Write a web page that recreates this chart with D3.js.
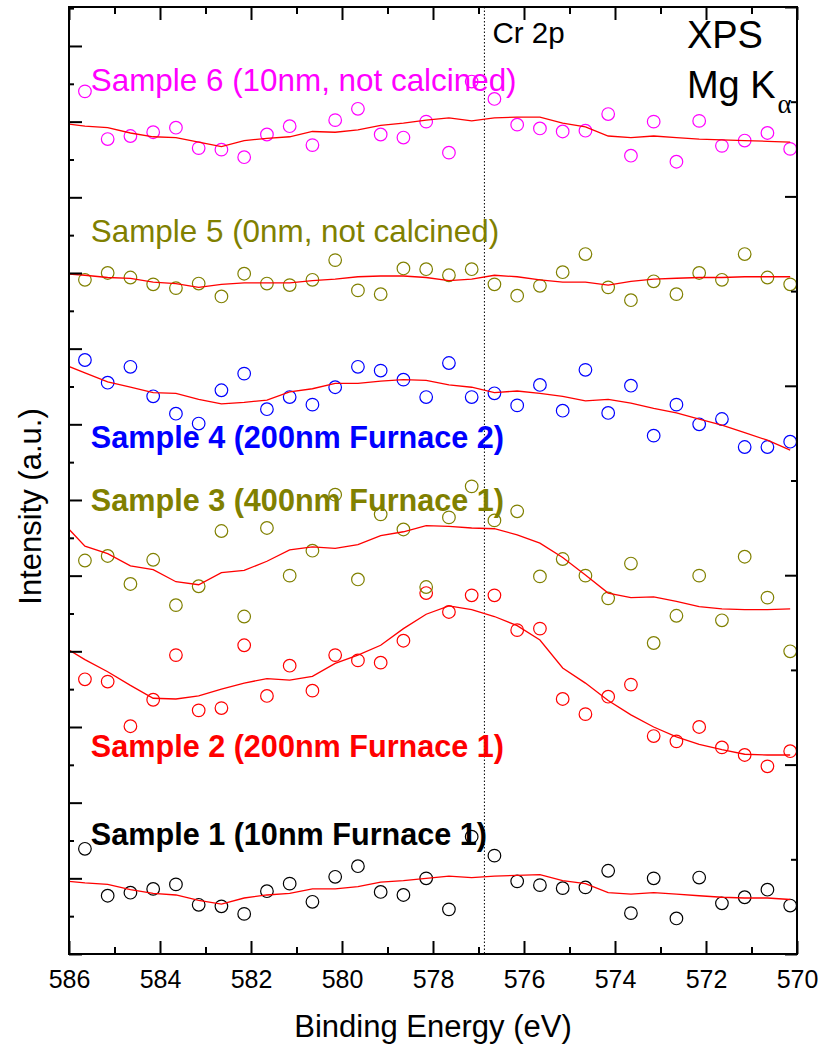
<!DOCTYPE html>
<html>
<head>
<meta charset="utf-8">
<script src="https://cdn.jsdelivr.net/npm/d3@7"></script>
<style>
  html, body { margin: 0; padding: 0; background: #fff; }
  svg { display: block; font-family: "Liberation Sans", Arial, sans-serif; }
</style>
</head>
<body>
<svg id="chart" width="822" height="1047"></svg>
<script>
// Binding energy grid (eV) shared by every Cr 2p spectrum
const bindingEnergy = [586.15,585.65,585.15,584.65,584.15,583.65,583.15,582.65,582.15,581.65,581.15,580.65,580.15,579.65,579.15,578.65,578.15,577.65,577.15,576.65,576.15,575.65,575.15,574.65,574.15,573.65,573.15,572.65,572.15,571.65,571.15,570.65,570.15];

// Measured intensities (a.u., stacked) and smoothed fits
const sample1Counts = [null,1.39,0.77,0.81,0.86,0.92,0.65,0.63,0.53,0.83,0.93,0.69,1.02,1.16,0.82,0.78,1.00,0.59,1.55,1.30,0.96,0.91,0.87,0.88,1.10,0.54,1.00,0.47,1.01,0.67,0.75,0.85,0.64];
const sample1Fit    = [0.97,0.94,0.92,0.85,0.80,0.78,0.71,0.66,0.74,0.78,0.80,0.86,0.86,0.89,0.95,0.97,1.00,1.03,1.01,1.03,1.04,1.05,0.97,0.93,0.81,0.79,0.81,0.79,0.77,0.75,0.74,0.74,0.72];

const sample2Counts = [4.28,3.63,3.60,3.01,3.36,3.95,3.22,3.25,4.08,3.41,3.81,3.48,3.95,3.88,3.85,4.14,4.77,4.52,4.74,4.74,4.28,4.30,3.37,3.17,3.40,3.56,2.88,2.81,3.00,2.73,2.63,2.48,2.68];
const sample2Fit    = [4.07,3.89,3.73,3.55,3.38,3.37,3.41,3.50,3.58,3.64,3.62,3.67,3.84,3.95,4.08,4.30,4.49,4.60,4.55,4.46,4.34,4.15,3.78,3.58,3.35,3.16,3.00,2.87,2.77,2.70,2.64,2.63,2.63];

const sample3Counts = [6.11,5.20,5.26,4.89,5.21,4.61,4.86,5.59,4.46,5.63,5.00,5.33,6.07,4.95,5.81,5.61,4.85,5.77,6.18,5.73,5.85,4.99,5.22,5.00,4.70,5.16,4.11,4.47,5.00,4.41,5.25,4.71,4.00];
const sample3Fit    = [5.71,5.39,5.29,5.13,5.08,4.92,4.88,5.04,5.07,5.19,5.34,5.38,5.36,5.41,5.53,5.58,5.66,5.65,5.63,5.62,5.54,5.43,5.24,5.01,4.77,4.71,4.72,4.66,4.59,4.56,4.55,4.55,4.56];

const sample4Counts = [7.83,7.85,7.55,7.76,7.37,7.14,7.01,7.45,7.67,7.20,7.36,7.26,7.49,7.76,7.71,7.59,7.36,7.81,7.36,7.41,7.25,7.52,7.18,7.72,7.15,7.51,6.85,7.26,7.00,7.07,6.70,6.70,6.77];
const sample4Fit    = [7.80,7.68,7.56,7.49,7.42,7.41,7.33,7.27,7.29,7.32,7.43,7.47,7.54,7.54,7.57,7.59,7.58,7.52,7.49,7.42,7.44,7.41,7.37,7.31,7.33,7.28,7.21,7.15,7.07,6.99,6.89,6.79,6.66];

const sample5Counts = [9.05,8.91,9.00,8.94,8.85,8.80,8.86,8.69,8.99,8.86,8.84,8.91,9.17,8.77,8.72,9.06,9.05,8.97,9.05,8.85,8.70,8.83,9.01,9.25,8.81,8.64,8.89,8.72,9.00,8.91,9.25,8.94,8.85];
const sample5Fit    = [8.99,8.97,8.94,8.93,8.88,8.86,8.81,8.85,8.87,8.87,8.87,8.90,8.92,8.95,8.96,8.96,8.94,8.90,8.92,8.97,8.95,8.91,8.88,8.88,8.84,8.89,8.92,8.93,8.94,8.94,8.95,8.95,8.95];

const sample6Counts = [10.71,11.40,10.77,10.81,10.86,10.92,10.65,10.63,10.53,10.83,10.94,10.69,11.02,11.17,10.83,10.79,11.00,10.59,11.53,11.30,10.96,10.91,10.87,10.88,11.10,10.55,11.00,10.47,11.01,10.68,10.75,10.85,10.64];
const sample6Fit    = [10.98,10.94,10.92,10.85,10.80,10.79,10.73,10.67,10.75,10.78,10.80,10.87,10.86,10.89,10.95,10.98,11.02,11.05,11.01,11.05,11.06,11.06,10.98,10.93,10.81,10.79,10.81,10.79,10.77,10.76,10.75,10.74,10.73];

const sampleNames = [
  "Sample 1 (10nm Furnace 1)",
  "Sample 2 (200nm Furnace 1)",
  "Sample 3 (400nm Furnace 1)",
  "Sample 4 (200nm Furnace 2)",
  "Sample 5 (0nm, not calcined)",
  "Sample 6 (10nm, not calcined)"
];
const sampleColors = ["#000000", "#ff0000", "#808000", "#0000ff", "#808000", "#ff00ff"];
const sampleBold   = [true, true, true, true, false, false];
// label anchor: baseline level in stacked intensity units
const labelLevels  = [1.44, 2.61, 5.85, 6.69, 9.41, 11.40];

const xMajorTicks = [586, 584, 582, 580, 578, 576, 574, 572, 570];
const xMinorTicks = [585, 583, 581, 579, 577, 575, 573, 571];
const leftMajorTicks = [0,1,2,3,4,5,6,7,8,9,10,11,12];
const leftMinorTicks = [0.5,1.5,2.5,3.5,4.5,5.5,6.5,7.5,8.5,9.5,10.5,11.5,12.5];
const rightMajorTicks = [0,2,4,6,8,10];
const rightMinorTicks = [1,3,5,7,9];

const cr2pEnergy = 576.87;

const counts = [sample1Counts, sample2Counts, sample3Counts, sample4Counts, sample5Counts, sample6Counts];
const fits   = [sample1Fit, sample2Fit, sample3Fit, sample4Fit, sample5Fit, sample6Fit];

// ---- layout ----
const W = 822, H = 1047;
const margin = { top: 7, right: 25, bottom: 93, left: 69 };
const pw = W - margin.left - margin.right;
const ph = H - margin.top - margin.bottom;

const svg = d3.select("#chart");
const g = svg.append("g").attr("transform", `translate(${margin.left},${margin.top})`);

const x = d3.scaleLinear().domain([586, 570]).range([0, pw]);
const yL = d3.scaleLinear().domain([0, 12.515]).range([ph, 0]);
const yR = d3.scaleLinear().domain([0, 10]).range([ph, 0]);

g.append("clipPath").attr("id", "plot-clip")
  .append("rect").attr("width", pw).attr("height", ph);

const plot = g.append("g").attr("clip-path", "url(#plot-clip)");

// Cr 2p reference position
plot.append("line")
  .attr("x1", x(cr2pEnergy)).attr("x2", x(cr2pEnergy))
  .attr("y1", 0).attr("y2", ph)
  .attr("stroke", "#000").attr("stroke-width", 1)
  .attr("stroke-dasharray", "1.5,2");

const line = d3.line()
  .defined(d => d[1] != null)
  .x(d => x(d[0]))
  .y(d => yL(d[1]));

counts.forEach((series, i) => {
  const pts = bindingEnergy.map((e, k) => [e, series[k]]).filter(d => d[1] != null);
  plot.append("g").selectAll("circle")
    .data(pts).join("circle")
    .attr("cx", d => x(d[0]))
    .attr("cy", d => yL(d[1]))
    .attr("r", 6.3)
    .attr("fill", "none")
    .attr("stroke", sampleColors[i])
    .attr("stroke-width", 1.2);
});

fits.forEach(series => {
  plot.append("path")
    .datum(bindingEnergy.map((e, k) => [e, series[k]]))
    .attr("d", line)
    .attr("fill", "none")
    .attr("stroke", "#ff0000")
    .attr("stroke-width", 1.3);
});

// ---- axes (ticks pointing inward) ----
function styleAxis(sel) {
  sel.select(".domain").remove();
  sel.selectAll(".tick line").attr("stroke", "#000").attr("stroke-width", 2);
}

g.append("g").attr("transform", `translate(0,${ph})`)
  .call(d3.axisBottom(x).tickValues(xMajorTicks).tickSize(-13).tickPadding(16).tickFormat(d3.format("d")))
  .call(styleAxis)
  .call(s => s.selectAll("text").attr("font-size", 25).attr("fill", "#000")
    .attr("font-family", '"Liberation Sans", Arial, sans-serif'));
g.append("g").attr("transform", `translate(0,${ph})`)
  .call(d3.axisBottom(x).tickValues(xMinorTicks).tickSize(-7).tickFormat(""))
  .call(styleAxis);

g.append("g")
  .call(d3.axisTop(x).tickValues(xMajorTicks).tickSize(-13).tickFormat(""))
  .call(styleAxis);
g.append("g")
  .call(d3.axisTop(x).tickValues(xMinorTicks).tickSize(-7).tickFormat(""))
  .call(styleAxis);

g.append("g")
  .call(d3.axisLeft(yL).tickValues(leftMajorTicks).tickSize(-13).tickFormat(""))
  .call(styleAxis);
g.append("g")
  .call(d3.axisLeft(yL).tickValues(leftMinorTicks).tickSize(-5).tickFormat(""))
  .call(styleAxis);

g.append("g").attr("transform", `translate(${pw},0)`)
  .call(d3.axisRight(yR).tickValues(rightMajorTicks).tickSize(-12).tickFormat(""))
  .call(styleAxis);
g.append("g").attr("transform", `translate(${pw},0)`)
  .call(d3.axisRight(yR).tickValues(rightMinorTicks).tickSize(-6).tickFormat(""))
  .call(styleAxis);

// frame
g.append("rect")
  .attr("width", pw).attr("height", ph)
  .attr("fill", "none").attr("stroke", "#000").attr("stroke-width", 2);

// ---- axis titles ----
svg.append("text")
  .attr("x", margin.left + pw / 2).attr("y", 1037)
  .attr("text-anchor", "middle").attr("font-size", 31)
  .text("Binding Energy (eV)");

svg.append("text")
  .attr("transform", `translate(41,${margin.top + ph / 2 + 26}) rotate(-90)`)
  .attr("text-anchor", "middle").attr("font-size", 31)
  .text("Intensity (a.u.)");

// ---- sample labels ----
sampleNames.forEach((name, i) => {
  g.append("text")
    .attr("x", x(585.52)).attr("y", yL(labelLevels[i]))
    .attr("font-size", sampleBold[i] ? 30.6 : 31.4)
    .attr("font-weight", sampleBold[i] ? "bold" : "normal")
    .attr("fill", sampleColors[i])
    .text(name);
});

// ---- annotations ----
g.append("text")
  .attr("x", x(cr2pEnergy) + 8).attr("y", yL(12.04))
  .attr("font-size", 29.5).text("Cr 2p");

g.append("text")
  .attr("x", x(572.42)).attr("y", yL(11.97))
  .attr("font-size", 38).text("XPS");

const mg = g.append("text")
  .attr("x", x(572.42)).attr("y", yL(11.31))
  .attr("font-size", 38);
mg.append("tspan").text("Mg K");
mg.append("tspan")
  .attr("font-family", '"Liberation Serif", "DejaVu Serif", serif')
  .attr("font-size", 27).attr("dy", 15).attr("dx", 2)
  .text("α");
</script>
</body>
</html>
